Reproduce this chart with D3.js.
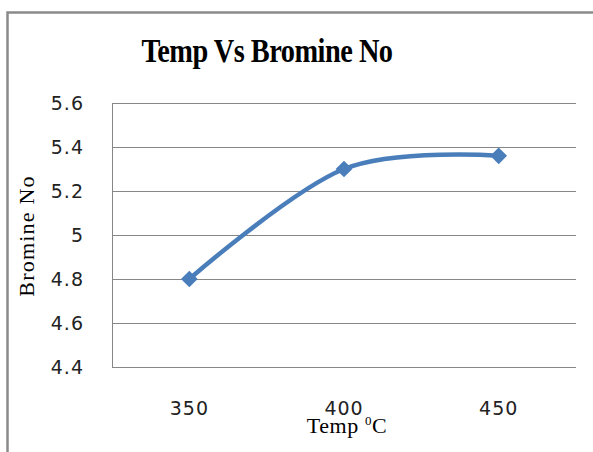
<!DOCTYPE html>
<html>
<head>
<meta charset="utf-8">
<script src="https://cdn.jsdelivr.net/npm/d3@7"></script>
<style>
  body { margin: 0; background: #fff; }
  svg { display: block; }
</style>
</head>
<body>
<div id="chart"></div>
<script>
// data
var temps = ["350", "400", "450"];
var bromine = [4.8, 5.3, 5.36];
var yTicks = [4.4, 4.6, 4.8, 5.0, 5.2, 5.4, 5.6];

var width = 593, height = 452;
var margin = {top: 103, right: 17, bottom: 85, left: 112};
var innerWidth = width - margin.left - margin.right,
    innerHeight = height - margin.top - margin.bottom;

var svg = d3.select("#chart").append("svg")
    .attr("width", width)
    .attr("height", height);

// outer chart frame (runs off the right and bottom of the picture)
svg.append("rect")
    .attr("x", 7.5).attr("y", 12.5)
    .attr("width", 620).attr("height", 480)
    .attr("fill", "none")
    .attr("stroke", "#8a8a8a")
    .attr("stroke-width", 2.5);

// title is tall and narrow in the original, so squeeze it a bit
svg.append("text")
    .attr("transform", "translate(267,62) scale(0.86,1)")
    .attr("text-anchor", "middle")
    .attr("font-family", "Liberation Serif, Times New Roman, serif")
    .attr("font-weight", "bold")
    .attr("font-size", "33px")
    .attr("letter-spacing", "-0.6px")
    .text("Temp Vs Bromine No");

var g = svg.append("g")
    .attr("transform", "translate(" + margin.left + "," + margin.top + ")");

var xScale = d3.scaleBand().domain(temps).range([0, innerWidth]).padding(0);
var yScale = d3.scaleLinear().domain([4.4, 5.6]).range([innerHeight, 0]);

// horizontal gridlines
g.append("g")
    .attr("class", "grid")
  .selectAll("line")
  .data(yTicks)
  .enter().append("line")
    .attr("x1", 0).attr("x2", innerWidth)
    .attr("y1", function(d) { return Math.round(yScale(d)) + 0.5; })
    .attr("y2", function(d) { return Math.round(yScale(d)) + 0.5; })
    .attr("stroke", "#878787")
    .attr("stroke-width", 1);

// y axis
var yAxis = g.append("g")
    .attr("font-family", "DejaVu Sans, Verdana, sans-serif")
    .attr("font-size", 19)
    .call(d3.axisLeft(yScale).tickValues(yTicks).tickSize(0).tickPadding(28)
      .tickFormat(function(d) { return d3.format("")(+d.toFixed(1)); }));
yAxis.attr("font-family", "DejaVu Sans, Verdana, sans-serif").attr("font-size", 19);
yAxis.select(".domain").attr("stroke", "#878787").attr("d", "M0.5,0V" + innerHeight);
yAxis.selectAll("text")
    .attr("letter-spacing", "1px")
    .attr("fill", "#222");

// x axis
var xAxis = g.append("g")
    .attr("transform", "translate(0," + innerHeight + ")")
    .call(d3.axisBottom(xScale).tickSize(0).tickPadding(35));
xAxis.attr("font-family", "DejaVu Sans, Verdana, sans-serif").attr("font-size", 19);
xAxis.select(".domain").remove();
xAxis.selectAll("text")
    .attr("letter-spacing", "1px")
    .attr("fill", "#222");

// axis titles
var xTitle = svg.append("text")
    .attr("x", 347).attr("y", 433)
    .attr("text-anchor", "middle")
    .attr("font-family", "Liberation Serif, Times New Roman, serif")
    .attr("font-size", "22px")
    .attr("letter-spacing", "0.6px");
xTitle.append("tspan").text("Temp ");
xTitle.append("tspan").attr("dy", "-8").attr("font-size", "13px").text("0");
xTitle.append("tspan").attr("dy", "8").text("C");

svg.append("text")
    .attr("transform", "translate(34,236) rotate(-90)")
    .attr("text-anchor", "middle")
    .attr("font-family", "Liberation Serif, Times New Roman, serif")
    .attr("font-size", "22px")
    .attr("letter-spacing", "1.2px")
    .text("Bromine No");

// smoothed line
var points = temps.map(function(t, i) { return {temp: t, value: bromine[i]}; });
var line = d3.line()
    .x(function(d) { return xScale(d.temp) + xScale.bandwidth() / 2; })
    .y(function(d) { return yScale(d.value); })
    .curve(d3.curveCardinal.tension(0));

g.append("path")
    .datum(points)
    .attr("d", line)
    .attr("fill", "none")
    .attr("stroke", "#4a7ebb")
    .attr("stroke-width", 4.5)
    .attr("stroke-linecap", "round");

// diamond markers
g.selectAll(".marker")
    .data(points)
  .enter().append("path")
    .attr("class", "marker")
    .attr("d", d3.symbol().type(d3.symbolSquare).size(140))
    .attr("transform", function(d) {
      return "translate(" + (xScale(d.temp) + xScale.bandwidth() / 2) + "," + yScale(d.value) + ") rotate(45)";
    })
    .attr("fill", "#4a7ebb");
</script>
</body>
</html>
